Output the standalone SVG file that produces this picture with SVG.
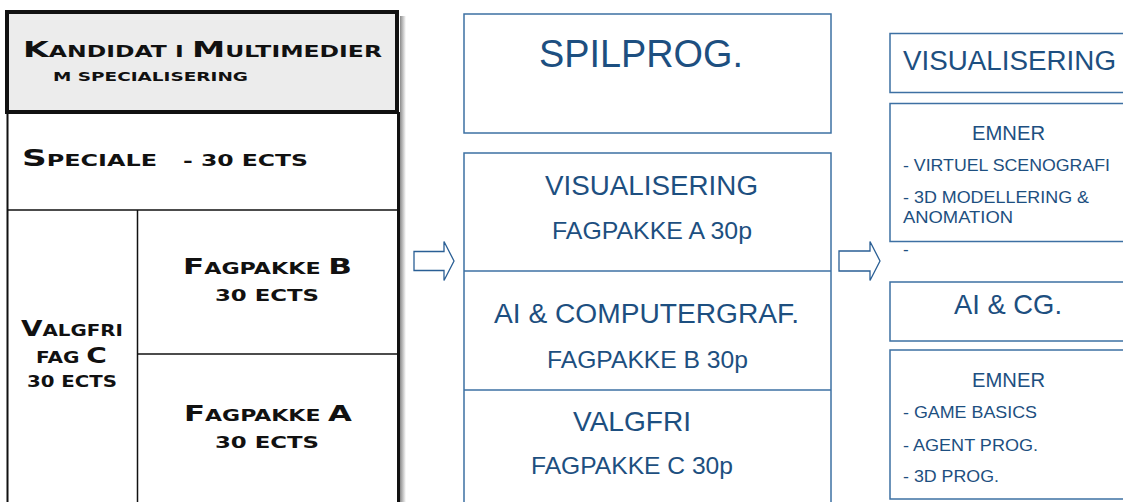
<svg xmlns="http://www.w3.org/2000/svg" width="1123" height="502" viewBox="0 0 1123 502">
<style>
.cp{font-family:"DejaVu Sans","Liberation Sans",sans-serif;font-weight:bold;fill:#111}
.bl{font-family:"Liberation Sans",Arial,sans-serif;fill:#1d4f80}
.bx{fill:#fff;stroke:#3d70a3;stroke-width:1.5}
.ln{stroke:#111;fill:none}
.arr{fill:#fff;stroke:#2a5f95;stroke-width:1.3}
</style>
<defs>
<linearGradient id="sh" x1="0" y1="0" x2="1" y2="0">
<stop offset="0" stop-color="#8a8a8a"/>
<stop offset="1" stop-color="#ffffff"/>
</linearGradient>
</defs>
<rect width="1123" height="502" fill="#fff"/>

<g id="left-block">
<rect x="400" y="16" width="6" height="490" fill="url(#sh)"/>
<rect x="7" y="12" width="390" height="100" fill="#ececec" stroke="#111" stroke-width="4"/>
<line class="ln" x1="7.5" y1="112" x2="7.5" y2="502" stroke-width="2"/>
<line class="ln" x1="398.5" y1="112" x2="398.5" y2="502" stroke-width="3"/>
<line class="ln" x1="7" y1="210" x2="399" y2="210" stroke-width="1.5"/>
<line class="ln" x1="137.5" y1="210" x2="137.5" y2="502" stroke-width="1.5"/>
<line class="ln" x1="137" y1="354" x2="399" y2="354" stroke-width="1.5"/>
</g>

<g id="header">
<text class="cp" x="23" y="57" textLength="359" lengthAdjust="spacingAndGlyphs"><tspan font-size="22">K</tspan><tspan font-size="15.5">ANDIDAT I </tspan><tspan font-size="22">M</tspan><tspan font-size="15.5">ULTIMEDIER</tspan></text>
<text class="cp" x="53" y="81" font-size="13" textLength="195" lengthAdjust="spacingAndGlyphs">M SPECIALISERING</text>
</g>

<g id="speciale">
<text class="cp" x="22" y="166" textLength="135" lengthAdjust="spacingAndGlyphs"><tspan font-size="23">S</tspan><tspan font-size="16">PECIALE</tspan></text>
<text class="cp" x="183" y="166" font-size="16" textLength="125" lengthAdjust="spacingAndGlyphs">- 30 ECTS</text>
</g>

<g id="fagpakke-b">
<text class="cp" x="183" y="274" textLength="169" lengthAdjust="spacingAndGlyphs"><tspan font-size="21">F</tspan><tspan font-size="15">AGPAKKE </tspan><tspan font-size="21">B</tspan></text>
<text class="cp" x="215" y="301" font-size="16" textLength="104" lengthAdjust="spacingAndGlyphs">30 ECTS</text>
</g>

<g id="fagpakke-a">
<text class="cp" x="184" y="421" textLength="168" lengthAdjust="spacingAndGlyphs"><tspan font-size="21">F</tspan><tspan font-size="15">AGPAKKE </tspan><tspan font-size="21">A</tspan></text>
<text class="cp" x="215" y="448" font-size="16" textLength="104" lengthAdjust="spacingAndGlyphs">30 ECTS</text>
</g>

<g id="valgfri-c">
<text class="cp" x="21" y="336" textLength="102" lengthAdjust="spacingAndGlyphs"><tspan font-size="21">V</tspan><tspan font-size="15">ALGFRI</tspan></text>
<text class="cp" x="36" y="363" textLength="71" lengthAdjust="spacingAndGlyphs"><tspan font-size="15">FAG </tspan><tspan font-size="21">C</tspan></text>
<text class="cp" x="27" y="387" font-size="16" textLength="90" lengthAdjust="spacingAndGlyphs">30 ECTS</text>
</g>

<g id="spilprog">
<rect class="bx" x="464" y="14" width="367" height="119" stroke="#5a87b0"/>
<text class="bl" x="539" y="67" font-size="38" textLength="204" lengthAdjust="spacingAndGlyphs">SPILPROG.</text>
</g>

<g id="fagpakker">
<rect class="bx" x="464" y="153" width="367" height="360"/>
<line x1="464" y1="271" x2="831" y2="271" stroke="#3d70a3" stroke-width="1.5"/>
<line x1="464" y1="390" x2="831" y2="390" stroke="#3d70a3" stroke-width="1.5"/>
<text class="bl" x="545" y="195" font-size="27" textLength="213" lengthAdjust="spacingAndGlyphs">VISUALISERING</text>
<text class="bl" x="552" y="239" font-size="24" textLength="200" lengthAdjust="spacingAndGlyphs">FAGPAKKE A 30p</text>
<text class="bl" x="494" y="323" font-size="27" textLength="305" lengthAdjust="spacingAndGlyphs">AI &amp; COMPUTERGRAF.</text>
<text class="bl" x="547" y="368" font-size="24" textLength="201" lengthAdjust="spacingAndGlyphs">FAGPAKKE B 30p</text>
<text class="bl" x="573" y="431" font-size="27.5" textLength="118" lengthAdjust="spacingAndGlyphs">VALGFRI</text>
<text class="bl" x="531" y="474" font-size="24" textLength="202" lengthAdjust="spacingAndGlyphs">FAGPAKKE C 30p</text>
</g>

<g id="vis-title">
<rect class="bx" x="890" y="33.5" width="240" height="59"/>
<text class="bl" x="903" y="70" font-size="27" textLength="213" lengthAdjust="spacingAndGlyphs">VISUALISERING</text>
</g>

<g id="vis-emner">
<rect class="bx" x="890" y="103.5" width="240" height="138"/>
<text class="bl" x="972" y="140" font-size="20" textLength="73" lengthAdjust="spacingAndGlyphs">EMNER</text>
<text class="bl" x="903" y="171" font-size="17" textLength="207" lengthAdjust="spacingAndGlyphs">- VIRTUEL SCENOGRAFI</text>
<text class="bl" x="903" y="203" font-size="17" textLength="186" lengthAdjust="spacingAndGlyphs">- 3D MODELLERING &amp;</text>
<text class="bl" x="903" y="223" font-size="17" textLength="110" lengthAdjust="spacingAndGlyphs">ANOMATION</text>
<text class="bl" x="903" y="255" font-size="17">-</text>
</g>

<g id="ai-title">
<rect class="bx" x="890" y="282" width="240" height="59"/>
<text class="bl" x="954" y="314" font-size="27.5" textLength="108" lengthAdjust="spacingAndGlyphs">AI &amp; CG.</text>
</g>

<g id="ai-emner">
<rect class="bx" x="890" y="350" width="240" height="149"/>
<text class="bl" x="972" y="387" font-size="20" textLength="73" lengthAdjust="spacingAndGlyphs">EMNER</text>
<text class="bl" x="903" y="418" font-size="17" textLength="134" lengthAdjust="spacingAndGlyphs">- GAME BASICS</text>
<text class="bl" x="903" y="451" font-size="17" textLength="135" lengthAdjust="spacingAndGlyphs">- AGENT PROG.</text>
<text class="bl" x="903" y="482" font-size="17" textLength="96" lengthAdjust="spacingAndGlyphs">- 3D PROG.</text>
</g>

<g id="connectors">
<polygon class="arr" points="414,251.5 444,251.5 444,241.5 454,261 444,280.5 444,270.5 414,270.5"/>
<polygon class="arr" points="839,251 870,251 870,241.5 880,261 870,280.5 870,271 839,271"/>
</g>
</svg>
